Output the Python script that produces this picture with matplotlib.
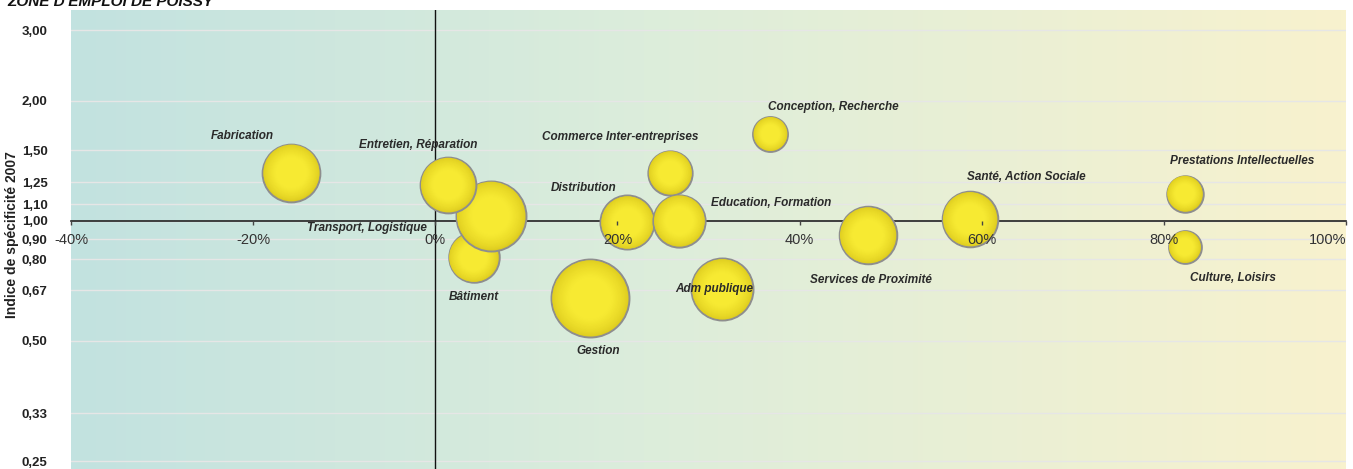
import numpy as np
import matplotlib
matplotlib.use("Agg")
import matplotlib.pyplot as plt
from matplotlib.colors import LinearSegmentedColormap, to_rgb
from matplotlib.ticker import FixedLocator, NullLocator

# ---------------- data ----------------
secteurs = ["Fabrication", "Bâtiment", "Transport, Logistique", "Entretien, Réparation",
            "Gestion", "Distribution", "Commerce Inter-entreprises", "Education, Formation",
            "Adm publique", "Conception, Recherche", "Services de Proximité",
            "Santé, Action Sociale", "Prestations Intellectuelles", "Culture, Loisirs"]
evolution = [-15.8, 4.2, 6.1, 1.4, 17.0, 21.1, 25.8, 26.8, 31.5, 36.8, 47.5, 58.7, 82.3, 82.3]
specificite = [1.32, 0.81, 1.03, 1.23, 0.64, 0.99, 1.32, 1.00, 0.674, 1.65, 0.92, 1.01, 1.17, 0.86]
taille = [1063, 812, 1560, 992, 1936, 930, 625, 870, 1225, 388, 1056, 986, 424, 342]

x_ticks = [-40, -20, 0, 20, 40, 60, 80, 100]
x_ticklabels = ["-40%", "-20%", "0%", "20%", "40%", "60%", "80%", "100%"]
y_ticks = [0.25, 0.33, 0.50, 0.67, 0.80, 0.90, 1.00, 1.10, 1.25, 1.50, 2.00, 3.00]
y_ticklabels = ["0,25", "0,33", "0,50", "0,67", "0,80", "0,90", "1,00", "1,10", "1,25", "1,50", "2,00", "3,00"]

titre = "ZONE D'EMPLOI DE POISSY"
y_titre = "Indice de spécificité 2007"

# label offsets in pixels (dx, dy)
offsets = [(-49, 37), (0, -40), (-124, -12), (-30, 40), (8, -53), (-44, 34), (-50, 36),
           (92, 18), (-8, 0), (63, 27), (3, -45), (56, 42), (57, 33), (48, -31)]

# ---------------- figure ----------------
W, H, DPI = 1353, 469, 100
fig = plt.figure(figsize=(W / DPI, H / DPI), dpi=DPI)
fig.patch.set_facecolor("white")
left, right, top, bottom = 71, 1346, 10, 0
ax = fig.add_axes([left / W, bottom / H, (right - left) / W, (H - top - bottom) / H])

narrow = ["Liberation Sans Narrow", "Liberation Sans", "DejaVu Sans"]
sans = ["Liberation Sans", "DejaVu Sans"]

ax.set_yscale("log")
ax.set_xlim(-40, 100)
ax.set_ylim(0.239, 3.37)

# background gradient
bg = LinearSegmentedColormap.from_list("bg", [(0, "#C2E2E0"), (0.45, "#DCEDDB"), (1, "#F8F2CE")])
grad = np.linspace(0, 1, 256).reshape(1, -1)
ax.imshow(grad, cmap=bg, aspect="auto", extent=[0, 1, 0, 1], transform=ax.transAxes, zorder=0)

# grid lines
for yv in y_ticks:
    ax.axhline(yv, color="#E6E6E6", lw=1.0, zorder=1)

# axes lines
for s in ["top", "right", "left"]:
    ax.spines[s].set_visible(False)
ax.spines["bottom"].set_position(("data", 1.0))
ax.spines["bottom"].set_color("#222222")
ax.spines["bottom"].set_linewidth(1.2)
ax.spines["bottom"].set_zorder(2)
ax.axvline(0, color="#111111", lw=1.0, zorder=2)

ax.xaxis.set_major_locator(FixedLocator(x_ticks))
ax.set_xticklabels(x_ticklabels)
ax.tick_params(axis="x", length=3, width=1, color="#444444", pad=6, labelsize=10.5,
               labelcolor="#333333")
for lab in ax.get_xticklabels():
    lab.set_family(sans)
ax.get_xticklabels()[-1].set_ha("right")
ax.xaxis.set_zorder(25)

ax.yaxis.set_major_locator(FixedLocator(y_ticks))
ax.yaxis.set_minor_locator(NullLocator())
ax.set_yticklabels(y_ticklabels)
ax.tick_params(axis="y", length=0, pad=17, labelsize=9.5, labelcolor="#222222")
for lab in ax.get_yticklabels():
    lab.set_family(narrow)
    lab.set_weight("bold")

fig.text(12 / W, 0.5, y_titre, rotation=90, ha="center", va="center",
         fontsize=10, family=narrow, fontweight="bold", color="#222222")
fig.text(7 / W, 1 - 6 / H, titre, ha="left", va="baseline", fontsize=11,
         family=sans, fontweight="bold", fontstyle="italic", color="#111111")

# bubbles with soft radial shading
k = np.pi * (72 / DPI) ** 2
edge_c = np.array(to_rgb("#DDCB1E"))
ctr_c = np.array(to_rgb("#F7EA32"))
z = 3
fracs = np.linspace(1.0, 0.1, 30)
for xv, yv, t in zip(evolution, specificite, taille):
    s = t * k
    ax.scatter([xv], [yv], s=s, c=[edge_c], edgecolors="#8E8E8E", linewidths=1.4, zorder=z)
    for f in fracs[1:]:
        w = min(1.0, ((1.0 - f) / 0.45) ** 0.7)
        col = edge_c * (1 - w) + ctr_c * w
        ax.scatter([xv], [yv], s=s * f * f, c=[np.clip(col, 0, 1)], edgecolors="none", zorder=z + 0.01)
    z += 0.1

# labels
for name, xv, yv, (dx, dy) in zip(secteurs, evolution, specificite, offsets):
    ax.annotate(name, (xv, yv), xytext=(dx, dy), textcoords="offset pixels",
                ha="center", va="center", fontsize=8.5, family=sans,
                fontweight="bold", fontstyle="italic", color="#2A2A2A", zorder=30)

fig.savefig("out.png", dpi=DPI)
